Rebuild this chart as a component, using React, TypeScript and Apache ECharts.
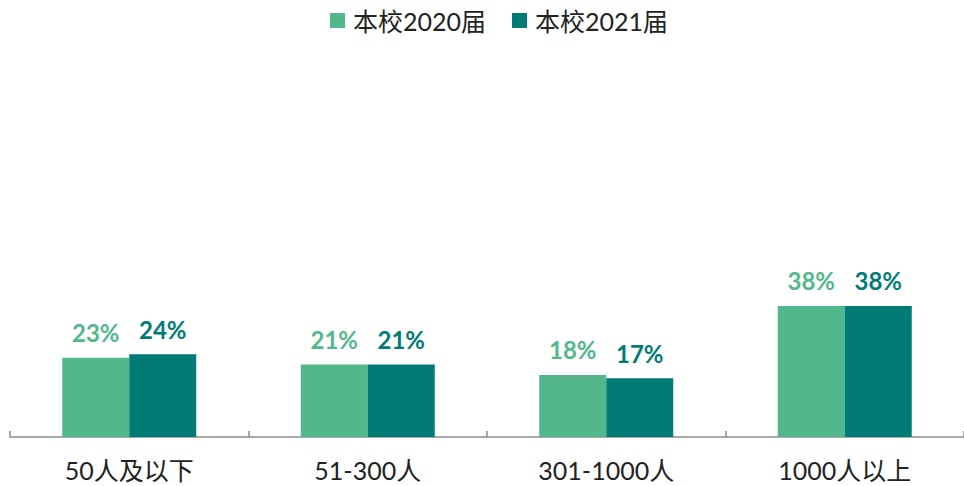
import React, { useEffect, useRef } from "react";
import * as echarts from "echarts";

const categories = ["50人及以下", "51-300人", "301-1000人", "1000人以上"];
const seriesNames = ["本校2020届", "本校2021届"];
const values2020 = [23, 21, 18, 38];
const values2021 = [24, 21, 17, 38];
const colors = ["#52B88B", "#007B76"];
const FONT = "Lato, 'Noto Sans CJK SC', sans-serif";

export default function App() {
  const ref = useRef<HTMLDivElement>(null);
  useEffect(() => {
    document.body.style.margin = "0";
    const chart = echarts.init(ref.current!, undefined, { renderer: "svg" });
    const mk = (name: string, data: number[], color: string) => ({
      name,
      type: "bar",
      data,
      barWidth: 67,
      barGap: "0%",
      itemStyle: { color },
      label: {
        show: true,
        position: "top",
        distance: 13,
        formatter: "{c}%",
        color,
        fontSize: 24,
        fontWeight: "bold",
        fontFamily: FONT,
      },
    });
    chart.setOption({
      animation: false,
      textStyle: { fontFamily: FONT },
      legend: {
        top: 3,
        left: 325,
        itemWidth: 15,
        itemHeight: 15,
        itemGap: 26,
        icon: "rect",
        textStyle: { fontSize: 25, color: "#222", fontFamily: FONT, padding: [0, 0, 0, 3] },
        data: seriesNames,
      },
      grid: { left: 10, right: -8, top: 264.5, bottom: 49 },
      xAxis: {
        type: "category",
        data: categories,
        axisLine: { lineStyle: { color: "#8c8c8c", width: 1.5 } },
        axisTick: { show: true, inside: true, length: 6, lineStyle: { color: "#8c8c8c", width: 1.5 } },
        axisLabel: { fontSize: 25, color: "#222", margin: 20, fontFamily: FONT },
      },
      yAxis: { type: "value", min: 0, max: 50, show: false, splitLine: { show: false } },
      series: [mk(seriesNames[0], values2020, colors[0]), mk(seriesNames[1], values2021, colors[1])],
    });
    return () => chart.dispose();
  }, []);
  return <div ref={ref} style={{ width: 964, height: 486 }} />;
}
